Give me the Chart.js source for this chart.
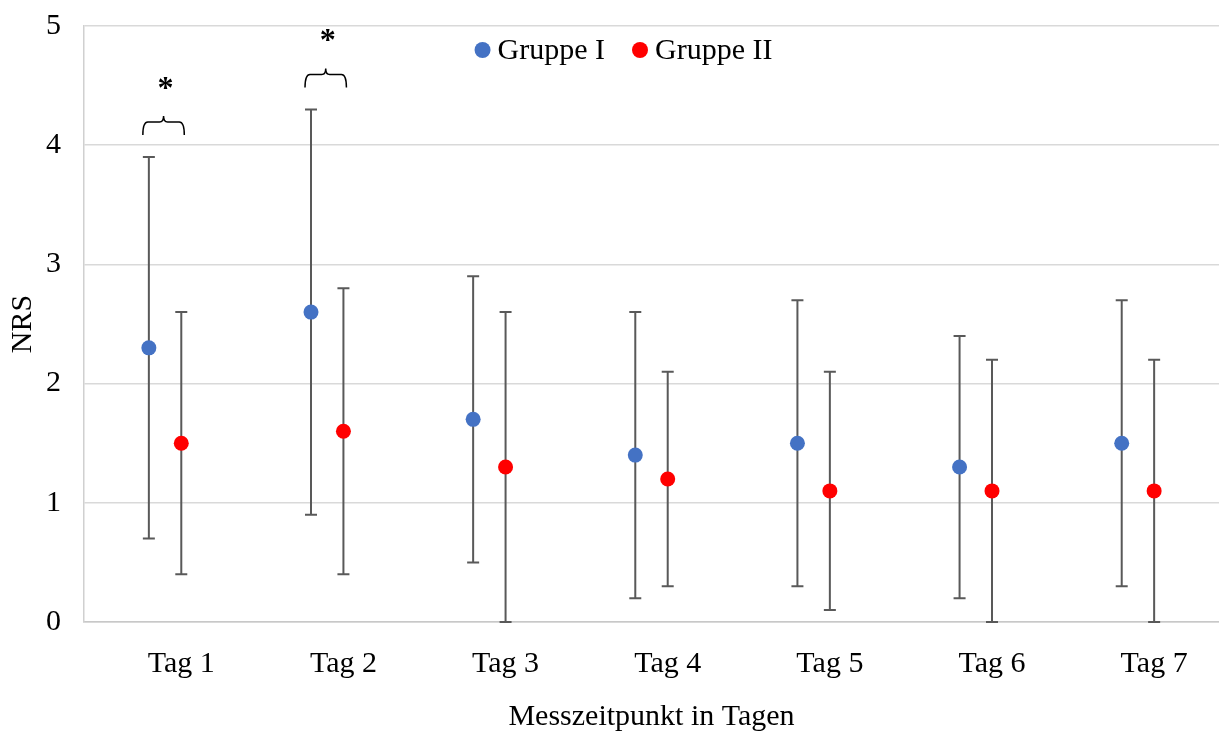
<!DOCTYPE html>
<html lang="de">
<head>
<meta charset="utf-8">
<title>NRS Gruppe I / Gruppe II</title>
<script src="https://cdn.jsdelivr.net/npm/chart.js@4.4.1/dist/chart.umd.min.js"></script>
<style>
  html, body { margin: 0; padding: 0; background: #fff; }
  #wrap { width: 1219px; height: 735px; position: relative; }
</style>
</head>
<body>
<div id="wrap"><canvas id="grafico-nrs"></canvas></div>
<script>
// Werte
const dayLabels = ['Tag 1', 'Tag 2', 'Tag 3', 'Tag 4', 'Tag 5', 'Tag 6', 'Tag 7'];
const gruppe1 = [2.3, 2.6, 1.7, 1.4, 1.5, 1.3, 1.5];
const gruppe1SD = [1.6, 1.7, 1.2, 1.2, 1.2, 1.1, 1.2];
const gruppe2 = [1.5, 1.6, 1.3, 1.2, 1.1, 1.1, 1.1];
const gruppe2SD = [1.1, 1.2, 1.3, 0.9, 1.0, 1.1, 1.1];
const yTicks = [0, 1, 2, 3, 4, 5];
const signifikant = ['Tag 1', 'Tag 2'];

const schrift = "'Liberation Serif', 'Times New Roman', serif";
Chart.defaults.font.family = schrift;
Chart.defaults.font.size = 30;
Chart.defaults.color = '#000';

// Punkte je Tag leicht nach links / rechts versetzt
const versatz = 0.1;
const toPoints = (werte, shift) => werte.map((v, i) => ({ x: i + 0.5 + shift, y: v }));

// Fehlerbalken (Mittelwert +/- SD, unten bei 0 abgeschnitten)
const fehlerbalken = {
    id: 'fehlerbalken',
    beforeDatasetsDraw(chart) {
        const ctx = chart.ctx;
        const x = chart.scales.x, y = chart.scales.y;
        ctx.save();
        ctx.strokeStyle = '#595959';
        ctx.lineWidth = 2;
        chart.data.datasets.forEach(ds => {
            ds.data.forEach((p, i) => {
                const px = x.getPixelForValue(p.x);
                const lo = y.getPixelForValue(Math.max(0, p.y - ds.sd[i]));
                const hi = y.getPixelForValue(p.y + ds.sd[i]);
                ctx.beginPath();
                ctx.moveTo(px, lo); ctx.lineTo(px, hi);
                ctx.moveTo(px - 6, lo); ctx.lineTo(px + 6, lo);
                ctx.moveTo(px - 6, hi); ctx.lineTo(px + 6, hi);
                ctx.stroke();
            });
        });
        ctx.restore();
    }
};

// geschweifte Klammer mit Stern über signifikanten Tagen
const sterne = {
    id: 'sterne',
    afterDatasetsDraw(chart) {
        const ctx = chart.ctx;
        const x = chart.scales.x, y = chart.scales.y;
        ctx.save();
        ctx.strokeStyle = '#000';
        ctx.lineWidth = 1.5;
        signifikant.forEach(tag => {
            const i = dayLabels.indexOf(tag);
            const x1 = x.getPixelForValue(i + 0.5 - versatz) - 6;
            const x2 = x.getPixelForValue(i + 0.5 + versatz) + 3;
            const xm = (x1 + x2) / 2;
            const top = Math.max(gruppe1[i] + gruppe1SD[i], gruppe2[i] + gruppe2SD[i]);
            const yb = y.getPixelForValue(top) - 22;
            const yl = yb - 13;
            ctx.beginPath();
            ctx.moveTo(x1, yb);
            ctx.quadraticCurveTo(x1, yl, x1 + 5, yl);
            ctx.lineTo(xm - 4, yl);
            ctx.quadraticCurveTo(xm, yl, xm, yl - 6);
            ctx.quadraticCurveTo(xm, yl, xm + 4, yl);
            ctx.lineTo(x2 - 5, yl);
            ctx.quadraticCurveTo(x2, yl, x2, yb);
            ctx.stroke();
            ctx.fillStyle = '#000';
            ctx.font = 'bold 32px ' + schrift;
            ctx.textAlign = 'center';
            ctx.textBaseline = 'alphabetic';
            ctx.fillText('*', xm + 2, yb - 52 + 15);
        });
        ctx.restore();
    }
};

// Legende oben im Diagrammbereich
const legende = {
    id: 'legende',
    afterDraw(chart) {
        const ctx = chart.ctx;
        const area = chart.chartArea;
        const r = 8, gap = 7, itemGap = 27;
        ctx.save();
        ctx.font = '30px ' + schrift;
        const items = chart.data.datasets.map(ds => ({
            text: ds.label, color: ds.backgroundColor, w: ctx.measureText(ds.label).width
        }));
        const total = items.reduce((s, it) => s + 2 * r + gap + it.w, 0) + itemGap * (items.length - 1);
        let cx = (area.left + area.right) / 2 - 28 - total / 2;
        const cy = area.top + 24;
        ctx.textBaseline = 'middle';
        ctx.textAlign = 'left';
        items.forEach(it => {
            ctx.fillStyle = it.color;
            ctx.beginPath();
            ctx.arc(cx + r, cy, r, 0, Math.PI * 2);
            ctx.fill();
            ctx.fillStyle = '#000';
            ctx.fillText(it.text, cx + 2 * r + gap, cy + 1);
            cx += 2 * r + gap + it.w + itemGap;
        });
        ctx.restore();
    }
};

const ctx = document.getElementById('grafico-nrs').getContext('2d');
const nrsChart = new Chart(ctx, {
    type: 'scatter',
    data: {
        datasets: [{
            label: 'Gruppe I',
            data: toPoints(gruppe1, -versatz),
            sd: gruppe1SD,
            backgroundColor: '#4472C4',
            borderColor: '#4472C4',
            pointRadius: 7.5,
            pointHoverRadius: 7.5,
            borderWidth: 0
        },
        {
            label: 'Gruppe II',
            data: toPoints(gruppe2, versatz),
            sd: gruppe2SD,
            backgroundColor: '#FF0000',
            borderColor: '#FF0000',
            pointRadius: 7.5,
            pointHoverRadius: 7.5,
            borderWidth: 0
        }]
    },
    options: {
        responsive: true,
        maintainAspectRatio: false,
        animation: false,
        layout: {
            autoPadding: false,
            padding: { top: 26, right: 0, left: 0, bottom: 0 }
        },
        scales: {
            x: {
                type: 'linear',
                min: 0,
                max: dayLabels.length,
                afterBuildTicks: scale => {
                    scale.ticks = dayLabels.map((_, i) => ({ value: i + 0.5 + versatz }));
                },
                afterFit: scale => {
                    scale.height = 113;
                    scale.paddingLeft = 0;
                    scale.paddingRight = 0;
                },
                ticks: {
                    padding: 16,
                    autoSkip: false,
                    maxRotation: 0,
                    callback: (value, index) => dayLabels[index]
                },
                grid: { display: false },
                border: { color: '#c8c8c8', width: 1.5 },
                title: {
                    display: true,
                    text: 'Messzeitpunkt in Tagen',
                    padding: { top: 0, bottom: 0 }
                }
            },
            y: {
                min: 0,
                max: 5,
                afterBuildTicks: scale => {
                    scale.ticks = yTicks.map(v => ({ value: v }));
                },
                afterFit: scale => {
                    scale.width = 84;
                    scale.paddingTop = 0;
                    scale.paddingBottom = 0;
                },
                ticks: { padding: 23 },
                grid: { color: '#d9d9d9', lineWidth: 1.5, drawTicks: false },
                border: { color: '#d0d0d0', width: 1.5 },
                title: {
                    display: true,
                    text: 'NRS',
                    padding: { top: 5, bottom: 0 }
                }
            }
        },
        plugins: {
            legend: { display: false },
            tooltip: {
                callbacks: {
                    label: function(context) {
                        const i = context.dataIndex;
                        return context.dataset.label + ' ' + dayLabels[i] + ': ' +
                            context.raw.y.toLocaleString('de-DE') + ' ± ' +
                            context.dataset.sd[i].toLocaleString('de-DE');
                    }
                }
            }
        }
    },
    plugins: [fehlerbalken, sterne, legende]
});
</script>
</body>
</html>
